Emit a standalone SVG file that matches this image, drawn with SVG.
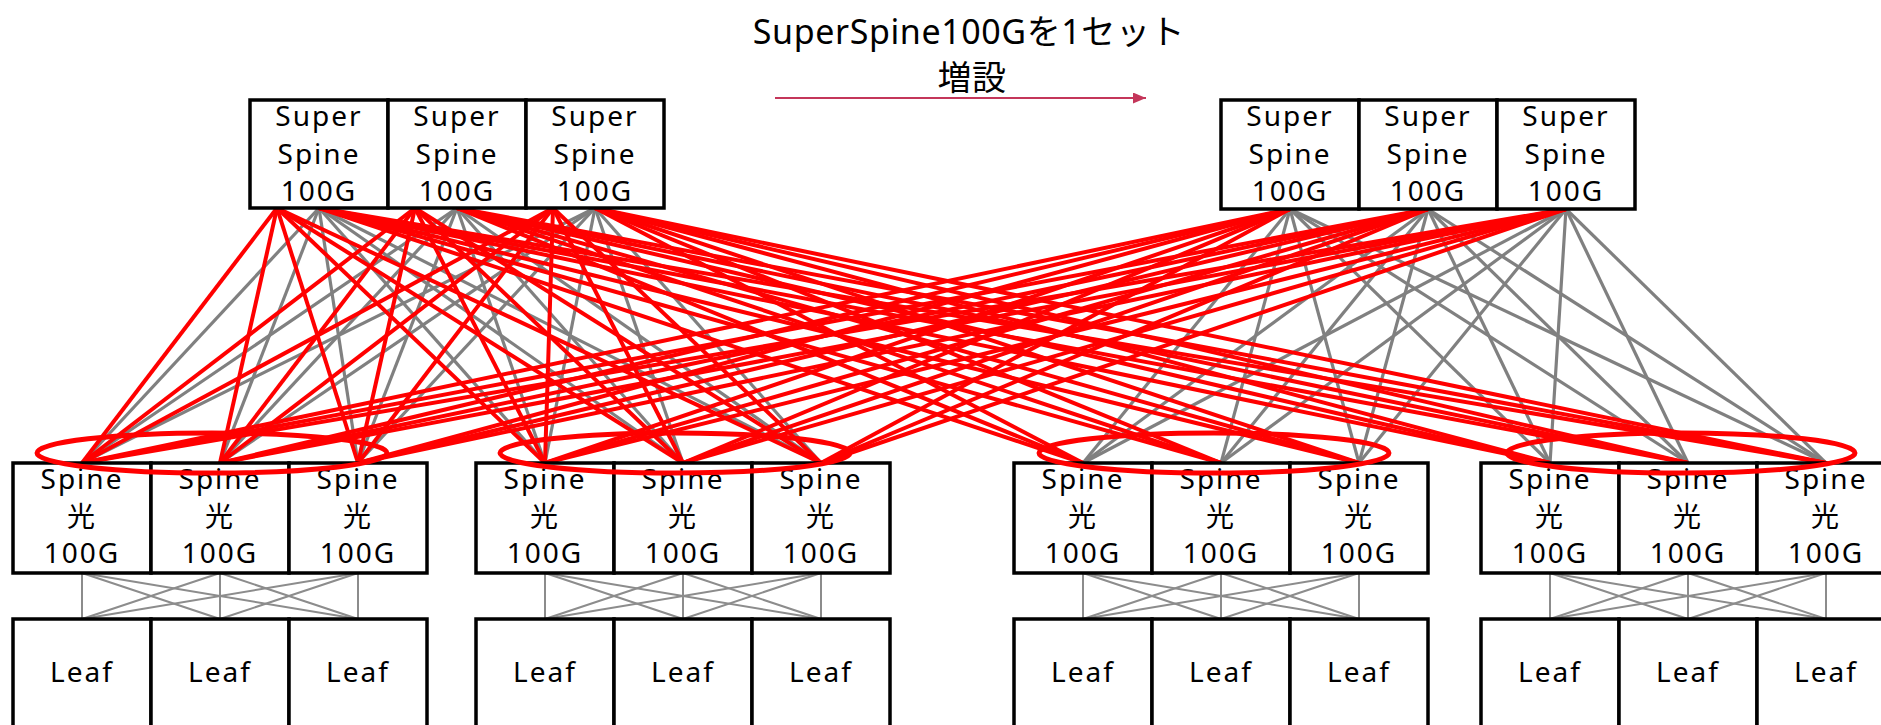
<svg xmlns="http://www.w3.org/2000/svg" width="1881" height="725" viewBox="0 0 1881 725">
  <style>
    .box { fill: #fff; stroke: #000; stroke-width: 3.5; }
    .lbl { font-family: "Noto Sans", "Noto Sans CJK JP", sans-serif; font-size: 28px; text-anchor: middle; fill: #000; letter-spacing: 2px; }
    .title { font-family: "Noto Sans", "Noto Sans CJK JP", sans-serif; font-size: 34px; text-anchor: middle; fill: #000; letter-spacing: 0.6px; }
    .g { stroke: #808080; stroke-width: 3.2; }
    .r { stroke: #ff0000; stroke-width: 4; }
    .m { stroke: #8c8c8c; stroke-width: 2; }
    .ring { fill: none; stroke: #ff0000; stroke-width: 5; }
  </style>
  <defs>
    <marker id="head" markerWidth="13" markerHeight="11" refX="13" refY="5.5" orient="auto" markerUnits="userSpaceOnUse">
      <path d="M0,0 L13,5.5 L0,11 Z" fill="#c4365a"/>
    </marker>
  </defs>
  <rect width="1881" height="725" fill="#fff"/>

  <!-- heading and expansion arrow -->
  <g id="heading">
    <text class="title" x="969" y="44">SuperSpine100Gを1セット</text>
    <text class="title" x="972" y="90">増設</text>
    <line x1="775" y1="98" x2="1146" y2="98" stroke="#c4365a" stroke-width="2" marker-end="url(#head)"/>
  </g>

  <!-- links -->
  <g id="connectors">
    <!-- existing super spines, centre port: grey to pods 1-2 -->
    <line class="g" x1="319" y1="208" x2="82" y2="463"/>
    <line class="g" x1="319" y1="208" x2="220" y2="463"/>
    <line class="g" x1="319" y1="208" x2="358" y2="463"/>
    <line class="g" x1="319" y1="208" x2="545" y2="463"/>
    <line class="g" x1="319" y1="208" x2="683" y2="463"/>
    <line class="g" x1="319" y1="208" x2="821" y2="463"/>
    <line class="g" x1="457" y1="208" x2="82" y2="463"/>
    <line class="g" x1="457" y1="208" x2="220" y2="463"/>
    <line class="g" x1="457" y1="208" x2="358" y2="463"/>
    <line class="g" x1="457" y1="208" x2="545" y2="463"/>
    <line class="g" x1="457" y1="208" x2="683" y2="463"/>
    <line class="g" x1="457" y1="208" x2="821" y2="463"/>
    <line class="g" x1="595" y1="208" x2="82" y2="463"/>
    <line class="g" x1="595" y1="208" x2="220" y2="463"/>
    <line class="g" x1="595" y1="208" x2="358" y2="463"/>
    <line class="g" x1="595" y1="208" x2="545" y2="463"/>
    <line class="g" x1="595" y1="208" x2="683" y2="463"/>
    <line class="g" x1="595" y1="208" x2="821" y2="463"/>
    <!-- added super spines: grey to pods 3-4 -->
    <line class="g" x1="1290" y1="209" x2="1083" y2="463"/>
    <line class="g" x1="1290" y1="209" x2="1221" y2="463"/>
    <line class="g" x1="1290" y1="209" x2="1359" y2="463"/>
    <line class="g" x1="1290" y1="209" x2="1550" y2="463"/>
    <line class="g" x1="1290" y1="209" x2="1688" y2="463"/>
    <line class="g" x1="1290" y1="209" x2="1826" y2="463"/>
    <line class="g" x1="1428" y1="209" x2="1083" y2="463"/>
    <line class="g" x1="1428" y1="209" x2="1221" y2="463"/>
    <line class="g" x1="1428" y1="209" x2="1359" y2="463"/>
    <line class="g" x1="1428" y1="209" x2="1550" y2="463"/>
    <line class="g" x1="1428" y1="209" x2="1688" y2="463"/>
    <line class="g" x1="1428" y1="209" x2="1826" y2="463"/>
    <line class="g" x1="1566" y1="209" x2="1083" y2="463"/>
    <line class="g" x1="1566" y1="209" x2="1221" y2="463"/>
    <line class="g" x1="1566" y1="209" x2="1359" y2="463"/>
    <line class="g" x1="1566" y1="209" x2="1550" y2="463"/>
    <line class="g" x1="1566" y1="209" x2="1688" y2="463"/>
    <line class="g" x1="1566" y1="209" x2="1826" y2="463"/>

    <!-- existing super spines, left port: red to pods 1-2 -->
    <line class="r" x1="277" y1="208" x2="82" y2="463"/>
    <line class="r" x1="277" y1="208" x2="220" y2="463"/>
    <line class="r" x1="277" y1="208" x2="358" y2="463"/>
    <line class="r" x1="277" y1="208" x2="545" y2="463"/>
    <line class="r" x1="277" y1="208" x2="683" y2="463"/>
    <line class="r" x1="277" y1="208" x2="821" y2="463"/>
    <line class="r" x1="415" y1="208" x2="82" y2="463"/>
    <line class="r" x1="415" y1="208" x2="220" y2="463"/>
    <line class="r" x1="415" y1="208" x2="358" y2="463"/>
    <line class="r" x1="415" y1="208" x2="545" y2="463"/>
    <line class="r" x1="415" y1="208" x2="683" y2="463"/>
    <line class="r" x1="415" y1="208" x2="821" y2="463"/>
    <line class="r" x1="553" y1="208" x2="82" y2="463"/>
    <line class="r" x1="553" y1="208" x2="220" y2="463"/>
    <line class="r" x1="553" y1="208" x2="358" y2="463"/>
    <line class="r" x1="553" y1="208" x2="545" y2="463"/>
    <line class="r" x1="553" y1="208" x2="683" y2="463"/>
    <line class="r" x1="553" y1="208" x2="821" y2="463"/>
    <!-- existing super spines, centre port: red to pods 3-4 -->
    <line class="r" x1="319" y1="208" x2="1083" y2="463"/>
    <line class="r" x1="319" y1="208" x2="1221" y2="463"/>
    <line class="r" x1="319" y1="208" x2="1359" y2="463"/>
    <line class="r" x1="319" y1="208" x2="1550" y2="463"/>
    <line class="r" x1="319" y1="208" x2="1688" y2="463"/>
    <line class="r" x1="319" y1="208" x2="1826" y2="463"/>
    <line class="r" x1="457" y1="208" x2="1083" y2="463"/>
    <line class="r" x1="457" y1="208" x2="1221" y2="463"/>
    <line class="r" x1="457" y1="208" x2="1359" y2="463"/>
    <line class="r" x1="457" y1="208" x2="1550" y2="463"/>
    <line class="r" x1="457" y1="208" x2="1688" y2="463"/>
    <line class="r" x1="457" y1="208" x2="1826" y2="463"/>
    <line class="r" x1="595" y1="208" x2="1083" y2="463"/>
    <line class="r" x1="595" y1="208" x2="1221" y2="463"/>
    <line class="r" x1="595" y1="208" x2="1359" y2="463"/>
    <line class="r" x1="595" y1="208" x2="1550" y2="463"/>
    <line class="r" x1="595" y1="208" x2="1688" y2="463"/>
    <line class="r" x1="595" y1="208" x2="1826" y2="463"/>
    <!-- added super spines: red to pods 1-2 -->
    <line class="r" x1="1290" y1="209" x2="82" y2="463"/>
    <line class="r" x1="1290" y1="209" x2="220" y2="463"/>
    <line class="r" x1="1290" y1="209" x2="358" y2="463"/>
    <line class="r" x1="1290" y1="209" x2="545" y2="463"/>
    <line class="r" x1="1290" y1="209" x2="683" y2="463"/>
    <line class="r" x1="1290" y1="209" x2="821" y2="463"/>
    <line class="r" x1="1428" y1="209" x2="82" y2="463"/>
    <line class="r" x1="1428" y1="209" x2="220" y2="463"/>
    <line class="r" x1="1428" y1="209" x2="358" y2="463"/>
    <line class="r" x1="1428" y1="209" x2="545" y2="463"/>
    <line class="r" x1="1428" y1="209" x2="683" y2="463"/>
    <line class="r" x1="1428" y1="209" x2="821" y2="463"/>
    <line class="r" x1="1566" y1="209" x2="82" y2="463"/>
    <line class="r" x1="1566" y1="209" x2="220" y2="463"/>
    <line class="r" x1="1566" y1="209" x2="358" y2="463"/>
    <line class="r" x1="1566" y1="209" x2="545" y2="463"/>
    <line class="r" x1="1566" y1="209" x2="683" y2="463"/>
    <line class="r" x1="1566" y1="209" x2="821" y2="463"/>

    <!-- spine to leaf full mesh, pod 1 -->
    <line class="m" x1="82" y1="573" x2="82" y2="619"/>
    <line class="m" x1="82" y1="573" x2="220" y2="619"/>
    <line class="m" x1="82" y1="573" x2="358" y2="619"/>
    <line class="m" x1="220" y1="573" x2="82" y2="619"/>
    <line class="m" x1="220" y1="573" x2="220" y2="619"/>
    <line class="m" x1="220" y1="573" x2="358" y2="619"/>
    <line class="m" x1="358" y1="573" x2="82" y2="619"/>
    <line class="m" x1="358" y1="573" x2="220" y2="619"/>
    <line class="m" x1="358" y1="573" x2="358" y2="619"/>
    <!-- pod 2 -->
    <line class="m" x1="545" y1="573" x2="545" y2="619"/>
    <line class="m" x1="545" y1="573" x2="683" y2="619"/>
    <line class="m" x1="545" y1="573" x2="821" y2="619"/>
    <line class="m" x1="683" y1="573" x2="545" y2="619"/>
    <line class="m" x1="683" y1="573" x2="683" y2="619"/>
    <line class="m" x1="683" y1="573" x2="821" y2="619"/>
    <line class="m" x1="821" y1="573" x2="545" y2="619"/>
    <line class="m" x1="821" y1="573" x2="683" y2="619"/>
    <line class="m" x1="821" y1="573" x2="821" y2="619"/>
    <!-- pod 3 -->
    <line class="m" x1="1083" y1="573" x2="1083" y2="619"/>
    <line class="m" x1="1083" y1="573" x2="1221" y2="619"/>
    <line class="m" x1="1083" y1="573" x2="1359" y2="619"/>
    <line class="m" x1="1221" y1="573" x2="1083" y2="619"/>
    <line class="m" x1="1221" y1="573" x2="1221" y2="619"/>
    <line class="m" x1="1221" y1="573" x2="1359" y2="619"/>
    <line class="m" x1="1359" y1="573" x2="1083" y2="619"/>
    <line class="m" x1="1359" y1="573" x2="1221" y2="619"/>
    <line class="m" x1="1359" y1="573" x2="1359" y2="619"/>
    <!-- pod 4 -->
    <line class="m" x1="1550" y1="573" x2="1550" y2="619"/>
    <line class="m" x1="1550" y1="573" x2="1688" y2="619"/>
    <line class="m" x1="1550" y1="573" x2="1826" y2="619"/>
    <line class="m" x1="1688" y1="573" x2="1550" y2="619"/>
    <line class="m" x1="1688" y1="573" x2="1688" y2="619"/>
    <line class="m" x1="1688" y1="573" x2="1826" y2="619"/>
    <line class="m" x1="1826" y1="573" x2="1550" y2="619"/>
    <line class="m" x1="1826" y1="573" x2="1688" y2="619"/>
    <line class="m" x1="1826" y1="573" x2="1826" y2="619"/>
  </g>

  <!-- super spines, existing set -->
  <g id="ss-a1"><rect class="box" x="250" y="100" width="138" height="108"/><text class="lbl" x="319" y="126">Super</text><text class="lbl" x="319" y="163.5">Spine</text><text class="lbl" x="319" y="201">100G</text></g>
  <g id="ss-a2"><rect class="box" x="388" y="100" width="138" height="108"/><text class="lbl" x="457" y="126">Super</text><text class="lbl" x="457" y="163.5">Spine</text><text class="lbl" x="457" y="201">100G</text></g>
  <g id="ss-a3"><rect class="box" x="526" y="100" width="138" height="108"/><text class="lbl" x="595" y="126">Super</text><text class="lbl" x="595" y="163.5">Spine</text><text class="lbl" x="595" y="201">100G</text></g>
  <!-- super spines, added set -->
  <g id="ss-b1"><rect class="box" x="1221" y="100" width="138" height="109"/><text class="lbl" x="1290" y="126">Super</text><text class="lbl" x="1290" y="163.5">Spine</text><text class="lbl" x="1290" y="201">100G</text></g>
  <g id="ss-b2"><rect class="box" x="1359" y="100" width="138" height="109"/><text class="lbl" x="1428" y="126">Super</text><text class="lbl" x="1428" y="163.5">Spine</text><text class="lbl" x="1428" y="201">100G</text></g>
  <g id="ss-b3"><rect class="box" x="1497" y="100" width="138" height="109"/><text class="lbl" x="1566" y="126">Super</text><text class="lbl" x="1566" y="163.5">Spine</text><text class="lbl" x="1566" y="201">100G</text></g>

  <!-- spines -->
  <g id="sp-1-1"><rect class="box" x="13" y="463" width="138" height="110"/><text class="lbl" x="82" y="489">Spine</text><text class="lbl" x="82" y="527">光</text><text class="lbl" x="82" y="563">100G</text></g>
  <g id="sp-1-2"><rect class="box" x="151" y="463" width="138" height="110"/><text class="lbl" x="220" y="489">Spine</text><text class="lbl" x="220" y="527">光</text><text class="lbl" x="220" y="563">100G</text></g>
  <g id="sp-1-3"><rect class="box" x="289" y="463" width="138" height="110"/><text class="lbl" x="358" y="489">Spine</text><text class="lbl" x="358" y="527">光</text><text class="lbl" x="358" y="563">100G</text></g>
  <g id="sp-2-1"><rect class="box" x="476" y="463" width="138" height="110"/><text class="lbl" x="545" y="489">Spine</text><text class="lbl" x="545" y="527">光</text><text class="lbl" x="545" y="563">100G</text></g>
  <g id="sp-2-2"><rect class="box" x="614" y="463" width="138" height="110"/><text class="lbl" x="683" y="489">Spine</text><text class="lbl" x="683" y="527">光</text><text class="lbl" x="683" y="563">100G</text></g>
  <g id="sp-2-3"><rect class="box" x="752" y="463" width="138" height="110"/><text class="lbl" x="821" y="489">Spine</text><text class="lbl" x="821" y="527">光</text><text class="lbl" x="821" y="563">100G</text></g>
  <g id="sp-3-1"><rect class="box" x="1014" y="463" width="138" height="110"/><text class="lbl" x="1083" y="489">Spine</text><text class="lbl" x="1083" y="527">光</text><text class="lbl" x="1083" y="563">100G</text></g>
  <g id="sp-3-2"><rect class="box" x="1152" y="463" width="138" height="110"/><text class="lbl" x="1221" y="489">Spine</text><text class="lbl" x="1221" y="527">光</text><text class="lbl" x="1221" y="563">100G</text></g>
  <g id="sp-3-3"><rect class="box" x="1290" y="463" width="138" height="110"/><text class="lbl" x="1359" y="489">Spine</text><text class="lbl" x="1359" y="527">光</text><text class="lbl" x="1359" y="563">100G</text></g>
  <g id="sp-4-1"><rect class="box" x="1481" y="463" width="138" height="110"/><text class="lbl" x="1550" y="489">Spine</text><text class="lbl" x="1550" y="527">光</text><text class="lbl" x="1550" y="563">100G</text></g>
  <g id="sp-4-2"><rect class="box" x="1619" y="463" width="138" height="110"/><text class="lbl" x="1688" y="489">Spine</text><text class="lbl" x="1688" y="527">光</text><text class="lbl" x="1688" y="563">100G</text></g>
  <g id="sp-4-3"><rect class="box" x="1757" y="463" width="138" height="110"/><text class="lbl" x="1826" y="489">Spine</text><text class="lbl" x="1826" y="527">光</text><text class="lbl" x="1826" y="563">100G</text></g>

  <!-- leaves -->
  <g id="lf-1-1"><rect class="box" x="13" y="619" width="138" height="120"/><text class="lbl" x="82" y="682">Leaf</text></g>
  <g id="lf-1-2"><rect class="box" x="151" y="619" width="138" height="120"/><text class="lbl" x="220" y="682">Leaf</text></g>
  <g id="lf-1-3"><rect class="box" x="289" y="619" width="138" height="120"/><text class="lbl" x="358" y="682">Leaf</text></g>
  <g id="lf-2-1"><rect class="box" x="476" y="619" width="138" height="120"/><text class="lbl" x="545" y="682">Leaf</text></g>
  <g id="lf-2-2"><rect class="box" x="614" y="619" width="138" height="120"/><text class="lbl" x="683" y="682">Leaf</text></g>
  <g id="lf-2-3"><rect class="box" x="752" y="619" width="138" height="120"/><text class="lbl" x="821" y="682">Leaf</text></g>
  <g id="lf-3-1"><rect class="box" x="1014" y="619" width="138" height="120"/><text class="lbl" x="1083" y="682">Leaf</text></g>
  <g id="lf-3-2"><rect class="box" x="1152" y="619" width="138" height="120"/><text class="lbl" x="1221" y="682">Leaf</text></g>
  <g id="lf-3-3"><rect class="box" x="1290" y="619" width="138" height="120"/><text class="lbl" x="1359" y="682">Leaf</text></g>
  <g id="lf-4-1"><rect class="box" x="1481" y="619" width="138" height="120"/><text class="lbl" x="1550" y="682">Leaf</text></g>
  <g id="lf-4-2"><rect class="box" x="1619" y="619" width="138" height="120"/><text class="lbl" x="1688" y="682">Leaf</text></g>
  <g id="lf-4-3"><rect class="box" x="1757" y="619" width="138" height="120"/><text class="lbl" x="1826" y="682">Leaf</text></g>

  <!-- highlighted spine pods -->
  <g id="pod-rings">
    <ellipse class="ring" cx="212" cy="453" rx="175" ry="20"/>
    <ellipse class="ring" cx="675" cy="453" rx="175" ry="20"/>
    <ellipse class="ring" cx="1214" cy="453" rx="175" ry="20"/>
    <ellipse class="ring" cx="1681" cy="453" rx="174" ry="20"/>
  </g>
</svg>
